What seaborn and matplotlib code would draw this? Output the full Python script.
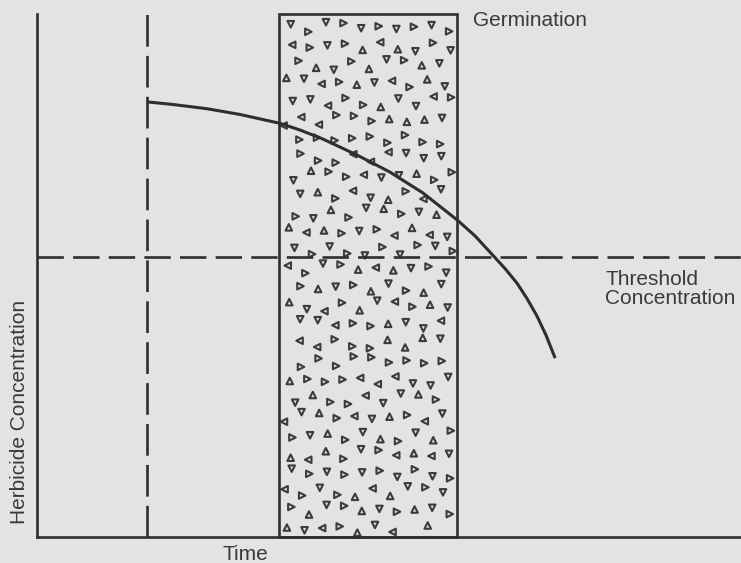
import numpy as np
import pandas as pd
import matplotlib
matplotlib.use("Agg")
import matplotlib.pyplot as plt
import seaborn as sns

# values (arbitrary units, 0-100 on both axes)
curve_time = [15.6, 19.3, 24.1, 28.8, 34.5, 37.4, 40.6, 45.5, 50.1, 54.8,
              59.7, 62.2, 64.8, 66.5, 68.2, 69.6, 71.0, 72.3, 73.6]
curve_conc = [83.2, 82.7, 81.9, 80.8, 79.1, 77.8, 76.1, 73.0, 69.8, 65.8,
              60.6, 57.6, 53.8, 51.3, 48.5, 45.6, 42.3, 38.6, 34.2]
application_time = 15.6
germination_start = 34.4
germination_end = 59.7
threshold = 53.5

bg = "#e3e3e1"
ink = "#2e2e2e"
txt = "#3a3a3a"

sns.set_theme(style="white")
plt.rcParams["font.family"] = ["Liberation Sans", "DejaVu Sans"]

fig = plt.figure(figsize=(7.41, 5.63), dpi=100, facecolor=bg)
ax = fig.add_axes([37 / 741, 26 / 563, 704 / 741, 523 / 563])
ax.set_facecolor(bg)
ax.set_xlim(0, 100)
ax.set_ylim(0, 100)

# germination window with triangle stipple (texture only)
ax.axvspan(germination_start, germination_end, facecolor="none",
           edgecolor=ink, linewidth=1.9, clip_on=False, zorder=2)

jx = [0.0, 0.42, -0.31, 0.18, -0.47, 0.35, -0.12, 0.5, -0.38, 0.08,
      0.27, -0.22, 0.45, -0.05, -0.41, 0.22, -0.28]
jy = [0.1, -0.4, 0.33, -0.15, 0.46, -0.3, 0.05, 0.38, -0.48, 0.2,
      -0.08, 0.28, -0.36]
dirs = ["^", "v", "<", ">"]
dx, dy = 2.5, 3.55
pts = {d: ([], []) for d in dirs}
for i in range(29):
    for j in range(11):
        x = germination_start + 1.1 + j * dx + (dx / 2 if i % 2 else 0) + jx[(i * 31 + j * 17) % 17] * dx * 0.6
        y = 1.6 + i * dy + jy[(i * 11 + j * 29) % 13] * dy * 0.6
        if x > germination_end - 0.6 or x < germination_start + 0.6 or y > 99.0 or y < 0.8:
            continue
        d = dirs[(i * 7 + j * 5 + (i * j) // 3) % 4]
        pts[d][0].append(x)
        pts[d][1].append(y)
for d, (xs, ys) in pts.items():
    ax.scatter(xs, ys, marker=d, s=22, facecolors="none", edgecolors="#3c3c3c",
               linewidths=1.5, zorder=1)

# application time and threshold
ax.axvline(application_time, color=ink, lw=1.9, ls=(0, (12, 3.5)), zorder=2)
ax.axhline(threshold, color=ink, lw=1.9, ls=(0, (10, 3.5)), zorder=2)

# herbicide concentration decay
df = pd.DataFrame({"Time": curve_time, "Concentration": curve_conc})
sns.lineplot(data=df, x="Time", y="Concentration", color=ink, lw=2.2,
             ax=ax, zorder=3, solid_capstyle="butt", solid_joinstyle="round")

for side in ["top", "right"]:
    ax.spines[side].set_visible(False)
for side in ["left", "bottom"]:
    ax.spines[side].set_color(ink)
    ax.spines[side].set_linewidth(1.9)
ax.set_xticks([])
ax.set_yticks([])
ax.set_xlabel("")
ax.set_ylabel("")

ax.text(61.9, 98.7, "Germination", ha="left", va="center", fontsize=15,
        color=txt, clip_on=False)
ax.text(80.7, 47.4, "Threshold\nConcentration", ha="left", va="center",
        fontsize=15, color=txt, linespacing=1.05, clip_on=False)
fig.text(20 / 741, 1 - 412 / 563, "Herbicide Concentration", rotation=90,
         ha="center", va="center", fontsize=15, color=txt)
fig.text(245 / 741, 1 - 555 / 563, "Time", ha="center", va="center",
         fontsize=15, color=txt)

fig.savefig("out.png", dpi=100, facecolor=bg)
